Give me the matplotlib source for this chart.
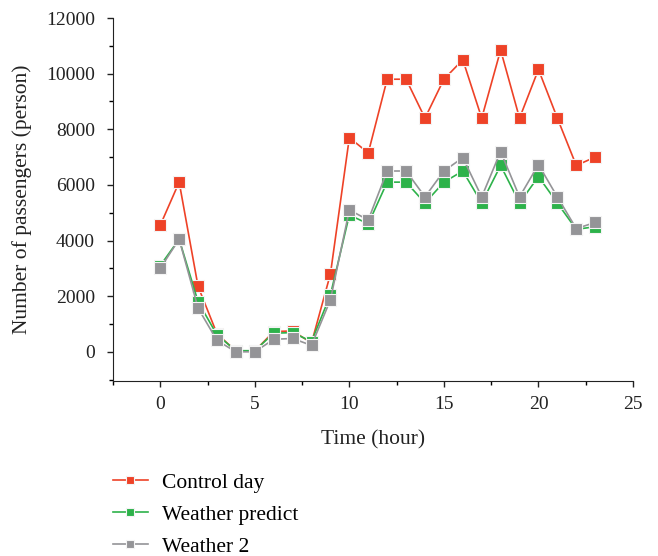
import matplotlib.pyplot as plt
from matplotlib.ticker import MultipleLocator

plt.rcParams['font.family'] = ['Liberation Serif', 'DejaVu Serif']

hours = list(range(24))
control_day = [4550, 6100, 2350, 650, 30, 30, 730, 750, 320, 2800, 7700, 7150,
               9800, 9800, 8400, 9800, 10500, 8400, 10850, 8400, 10150, 8400, 6700, 7000]
weather_predict = [3100, 4050, 1800, 610, 40, 40, 670, 690, 370, 2050, 4920, 4600,
                   6100, 6100, 5350, 6100, 6500, 5350, 6700, 5350, 6300, 5350, 4400, 4500]
weather_2 = [3000, 4050, 1570, 410, 0, 0, 450, 480, 230, 1870, 5100, 4740,
             6500, 6500, 5570, 6500, 6980, 5570, 7200, 5570, 6730, 5570, 4430, 4650]

fig = plt.figure(figsize=(6.58, 5.56), dpi=100)
ax = fig.add_axes([0.1717, 0.3147, 0.7903, 0.6529])

series = [
    (control_day, '#EE4227', 'Control day'),
    (weather_predict, '#2DB24A', 'Weather predict'),
    (weather_2, '#949497', 'Weather 2'),
]
for vals, col, lab in series:
    ax.plot(hours, vals, color=col, lw=1.2, marker='s', ms=8,
            mfc=col, mec='#f4f4f4', mew=0.8, label=lab)

ax.set_xlim(-2.5, 25)
ax.set_ylim(-1050, 12000)
ax.xaxis.set_major_locator(MultipleLocator(5))
ax.xaxis.set_minor_locator(MultipleLocator(2.5))
ax.yaxis.set_major_locator(MultipleLocator(2000))
ax.yaxis.set_minor_locator(MultipleLocator(1000))
ax.tick_params(which='major', direction='out', length=4, width=1, labelsize=14, colors='#222222')
ax.tick_params(axis='y', which='major', pad=9)
ax.tick_params(axis='x', which='major', pad=7)
ax.tick_params(which='minor', direction='out', length=3, width=1)
ax.spines['top'].set_visible(False)
ax.spines['right'].set_visible(False)
for s in ['left', 'bottom']:
    ax.spines[s].set_color('#222222')

ax.set_xlabel('Time (hour)', fontsize=15.5, color='#222222', labelpad=12)
ax.set_ylabel('Number of passengers (person)', fontsize=15.5, color='#222222', labelpad=10)

fig.legend(loc='upper left', bbox_to_anchor=(0.159, 0.165), frameon=False,
           fontsize=15.5, handlelength=1.6, markerscale=0.75, labelspacing=0.55,
           handletextpad=0.65, borderaxespad=0)

fig.savefig('out.png', dpi=100)
